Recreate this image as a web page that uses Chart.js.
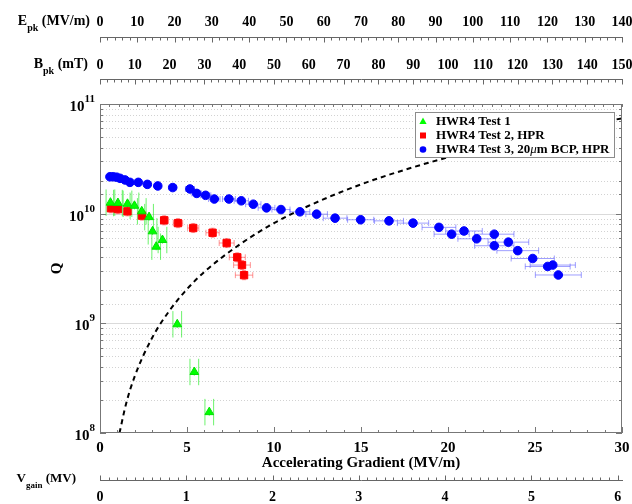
<!DOCTYPE html>
<html>
<head>
<meta charset="utf-8">
<script src="https://cdn.jsdelivr.net/npm/chart.js@4/dist/chart.umd.min.js"></script>
<style>
  html, body { margin: 0; padding: 0; background: #fff; }
</style>
</head>
<body>
<canvas id="qe" width="632" height="504"></canvas>
<script>
// HWR4 Test 1 (green triangles)
const t1Grad = [0.60, 1.03, 1.58, 1.98, 2.40, 2.82, 3.02, 3.23, 3.59, 4.44, 5.42, 6.28];
const t1Q = [1.26e10, 1.25e10, 1.23e10, 1.18e10, 1.05e10, 9.3e9, 6.9e9, 5.0e9, 5.75e9, 9.8e8, 3.6e8, 1.55e8];
const t1GradErr = [0.25, 0.25, 0.25, 0.25, 0.25, 0.25, 0.25, 0.25, 0.25, 0.25, 0.25, 0.25];
const t1QFactor = 1.32;

// HWR4 Test 2, HPR (red squares)
const t2Grad = [0.63, 1.03, 1.58, 2.41, 3.69, 4.48, 5.36, 6.47, 7.28, 7.89, 8.16, 8.28];
const t2Q = [1.12e10, 1.10e10, 1.05e10, 9.6e9, 8.7e9, 8.2e9, 7.4e9, 6.7e9, 5.4e9, 4.0e9, 3.4e9, 2.75e9];
const t2GradErr = [0.04, 0.06, 0.09, 0.14, 0.22, 0.27, 0.32, 0.38, 0.43, 0.46, 0.48, 0.50];
const t2QFactor = 1.1;

// HWR4 Test 3, 20um BCP, HPR (blue circles)
const t3Grad = [0.57, 0.76, 0.96, 1.15, 1.44, 1.72, 2.20, 2.72, 3.32, 4.18, 5.17, 5.56, 6.07,
  6.57, 7.41, 8.12, 8.81, 9.57, 10.40, 11.49, 12.45, 13.51, 14.98, 16.61, 17.99, 19.48,
  20.21, 20.92, 21.65, 22.66, 22.66, 23.47, 24.01, 24.87, 25.73, 26.02, 26.34];
const t3Q = [2.17e10, 2.17e10, 2.15e10, 2.10e10, 2.03e10, 1.93e10, 1.93e10, 1.85e10, 1.79e10,
  1.73e10, 1.68e10, 1.53e10, 1.47e10, 1.36e10, 1.36e10, 1.31e10, 1.22e10, 1.13e10, 1.09e10,
  1.04e10, 9.9e9, 9.1e9, 8.8e9, 8.6e9, 8.2e9, 7.5e9, 6.5e9, 6.95e9, 5.9e9, 6.5e9, 5.1e9,
  5.5e9, 4.6e9, 3.9e9, 3.3e9, 3.4e9, 2.76e9];
const t3GradErr = [0.03, 0.04, 0.05, 0.06, 0.07, 0.09, 0.11, 0.14, 0.17, 0.21, 0.26, 0.28, 0.30,
  0.33, 0.37, 0.41, 0.44, 0.48, 0.52, 0.57, 0.62, 0.68, 0.75, 0.83, 0.90, 0.97, 1.01, 1.05,
  1.08, 1.13, 1.13, 1.17, 1.20, 1.24, 1.29, 1.30, 1.32];
const t3QFactor = 1.05;

// dashed line
const limitGrad = [1.12, 1.5, 2, 3, 4, 5, 6, 8, 10, 12, 15, 18, 21, 24, 27, 30];
const limitQ = [1.0e8, 1.85e8, 3.3e8, 7.4e8, 1.31e9, 2.05e9, 2.95e9, 5.2e9, 8.2e9, 1.18e10,
  1.85e10, 2.65e10, 3.6e10, 4.7e10, 6.0e10, 7.4e10];

// axis ranges
const gradMax = 30;
const epkMax = 140;
const bpkMax = 150;
const vgainMax = 6.05;

const legendLabels = ['HWR4 Test 1', 'HWR4 Test 2, HPR', 'HWR4 Test 3, 20', 'm BCP, HPR'];

const FONT = "'Liberation Serif', 'Times New Roman', serif";
Chart.defaults.font.family = FONT;
Chart.defaults.font.weight = 'bold';
Chart.defaults.color = '#000';

const pts = (xs, ys) => xs.map((x, i) => ({ x: x, y: ys[i] }));
// fixed height, no extra room for the end labels
const fixH = h => s => { s.height = h; s.paddingLeft = 0; s.paddingRight = 0; };
const isInt = v => Math.abs(v - Math.round(v)) < 1e-6;

function auxAxis(pos, weight, max, step, h, pad, every, size) {
  return {
    type: 'linear', position: pos, weight: weight, min: 0, max: max,
    afterFit: fixH(h),
    grid: { display: false, drawTicks: false },
    border: { display: true, color: '#666', width: 1 },
    ticks: {
      stepSize: step, autoSkip: false, maxRotation: 0, includeBounds: false, padding: pad,
      font: { size: size, weight: 'bold' },
      callback: v => isInt(v / every) ? Math.round(v) : ''
    }
  };
}

// error bars, grid, frame, legend and axis names
const extras = {
  id: 'extras',
  beforeDatasetsDraw(chart) {
    const { ctx, chartArea: a, scales } = chart;
    const ys = scales.y, xs = scales.x;
    ctx.save();
    ys.ticks.forEach(t => {
      const py = Math.round(ys.getPixelForValue(t.value)) + 0.5;
      if (py <= a.top + 1 || py >= a.bottom - 1) return;
      const dec = isInt(Math.log10(t.value));
      ctx.beginPath();
      ctx.strokeStyle = dec ? '#dadada' : '#d2d2d2';
      ctx.lineWidth = 1;
      ctx.setLineDash(dec ? [] : [1, 2]);
      ctx.moveTo(a.left, py);
      ctx.lineTo(a.right, py);
      ctx.stroke();
    });
    ctx.setLineDash([]);

    ctx.beginPath();
    ctx.rect(a.left, a.top, a.right - a.left, a.bottom - a.top);
    ctx.clip();
    chart.data.datasets.forEach(ds => {
      if (!ds.xErr) return;
      ctx.strokeStyle = ds.errColor;
      ctx.lineWidth = 1;
      ds.data.forEach((p, i) => {
        const px = xs.getPixelForValue(p.x), py = ys.getPixelForValue(p.y);
        const xl = xs.getPixelForValue(p.x - ds.xErr[i]);
        const xr = xs.getPixelForValue(p.x + ds.xErr[i]);
        const yt = ys.getPixelForValue(p.y * ds.qFactor);
        const yb = ys.getPixelForValue(p.y / ds.qFactor);
        ctx.beginPath();
        if (ds.errStyle === 'sides') {
          ctx.moveTo(xl, yt); ctx.lineTo(xl, yb);
          ctx.moveTo(xr, yt); ctx.lineTo(xr, yb);
          ctx.moveTo(px, py); ctx.lineTo(px, ys.getPixelForValue(p.y / 1.08));
        } else {
          ctx.moveTo(xl, py); ctx.lineTo(xr, py);
          ctx.moveTo(xl, py - 3); ctx.lineTo(xl, py + 3);
          ctx.moveTo(xr, py - 3); ctx.lineTo(xr, py + 3);
          ctx.moveTo(px, yt); ctx.lineTo(px, yb);
          ctx.moveTo(px - 2, yt); ctx.lineTo(px + 2, yt);
          ctx.moveTo(px - 2, yb); ctx.lineTo(px + 2, yb);
        }
        ctx.stroke();
      });
    });
    ctx.restore();
  },
  afterDatasetsDraw(chart) {
    const { ctx, chartArea: a, scales } = chart;
    const ys = scales.y, xs = scales.x;
    ctx.save();

    // frame
    ctx.strokeStyle = '#777';
    ctx.lineWidth = 1;
    ctx.strokeRect(a.left + 0.5, a.top + 0.5, a.right - a.left - 1, a.bottom - a.top - 1);

    ctx.beginPath();
    // y ticks, both sides, inward
    ys.ticks.forEach(t => {
      const py = Math.round(ys.getPixelForValue(t.value)) + 0.5;
      const len = isInt(Math.log10(t.value)) ? 6 : 3;
      ctx.moveTo(a.left, py); ctx.lineTo(a.left + len, py);
      ctx.moveTo(a.right, py); ctx.lineTo(a.right - len, py);
    });
    // bottom ticks
    xs.ticks.forEach(t => {
      const px = Math.round(xs.getPixelForValue(t.value)) + 0.5;
      const len = isInt(t.value / 5) ? 6 : 3;
      ctx.moveTo(px, a.bottom); ctx.lineTo(px, a.bottom - len);
    });
    // top ticks
    scales.xT.ticks.forEach(t => {
      const px = Math.round(scales.xT.getPixelForValue(t.value)) + 0.5;
      ctx.moveTo(px, a.top); ctx.lineTo(px, a.top + 3);
    });
    ctx.stroke();

    // secondary axes ticks
    ctx.strokeStyle = '#666';
    ctx.beginPath();
    [['xE', 1, 10], ['xB', 1, 10], ['xV', -1, 1]].forEach(([id, dir, every]) => {
      const s = scales[id];
      const y0 = (dir > 0 ? s.bottom : s.top) + 0.5;
      s.ticks.forEach(t => {
        const px = Math.round(s.getPixelForValue(t.value)) + 0.5;
        const len = isInt(t.value / every) ? 5 : 3;
        ctx.moveTo(px, y0); ctx.lineTo(px, y0 + dir * len);
      });
    });
    ctx.stroke();

    // y tick labels 10^n
    ctx.fillStyle = '#000';
    ctx.textBaseline = 'middle';
    ys.ticks.forEach(t => {
      const e = Math.log10(t.value);
      if (!isInt(e)) return;
      const py = ys.getPixelForValue(t.value);
      const ex = String(Math.round(e));
      ctx.font = 'bold 11px ' + FONT;
      const we = ctx.measureText(ex).width;
      ctx.font = 'bold 15px ' + FONT;
      const wb = ctx.measureText('10').width;
      const right = a.left - 5;
      ctx.textAlign = 'left';
      ctx.fillText('10', right - we - wb, py + 3);
      ctx.font = 'bold 11px ' + FONT;
      ctx.fillText(ex, right - we, py - 5);
    });

    // names of the secondary axes
    const name = (main, sub, unit, xEnd, y, big, small) => {
      ctx.font = 'bold ' + big + 'px ' + FONT;
      const w1 = ctx.measureText(main).width;
      const w3 = ctx.measureText(unit).width;
      ctx.font = 'bold ' + small + 'px ' + FONT;
      const w2 = ctx.measureText(sub).width;
      const x = xEnd - w1 - w2 - w3;
      ctx.textAlign = 'left';
      ctx.font = 'bold ' + big + 'px ' + FONT;
      ctx.fillText(main, x, y);
      ctx.font = 'bold ' + small + 'px ' + FONT;
      ctx.fillText(sub, x + w1, y + 7);
      ctx.font = 'bold ' + big + 'px ' + FONT;
      ctx.fillText(unit, x + w1 + w2, y);
    };
    name('E', 'pk', ' (MV/m)', a.left - 10, scales.xE.bottom - 16, 14, 10);
    name('B', 'pk', ' (mT)', a.left - 12, scales.xB.bottom - 15, 14, 10);
    name('V', 'gain', ' (MV)', a.left - 24, scales.xV.top - 1, 13, 9);

    // legend
    const bw = 199, bh = 45;
    const bx = a.right - 8 - bw, by = a.top + 8;
    ctx.fillStyle = '#fff';
    ctx.fillRect(bx, by, bw, bh);
    ctx.strokeStyle = '#8c8c8c';
    ctx.strokeRect(bx + 0.5, by + 0.5, bw, bh);
    const rows = [by + 9.5, by + 23.5, by + 37.5];
    const mx = bx + 8;
    const dsets = chart.data.datasets;
    ctx.fillStyle = dsets[0].backgroundColor;
    ctx.beginPath();
    ctx.moveTo(mx, rows[0] - 4); ctx.lineTo(mx + 3.6, rows[0] + 2.5); ctx.lineTo(mx - 3.6, rows[0] + 2.5);
    ctx.closePath(); ctx.fill();
    ctx.fillStyle = dsets[1].backgroundColor;
    ctx.fillRect(mx - 3, rows[1] - 3, 6, 6);
    ctx.fillStyle = dsets[2].backgroundColor;
    ctx.beginPath(); ctx.arc(mx, rows[2], 3.3, 0, Math.PI * 2); ctx.fill();

    ctx.fillStyle = '#000';
    ctx.textAlign = 'left';
    const tx = bx + 21;
    ctx.font = 'bold 13px ' + FONT;
    ctx.fillText(legendLabels[0], tx, rows[0]);
    ctx.fillText(legendLabels[1], tx, rows[1]);
    ctx.fillText(legendLabels[2], tx, rows[2]);
    let w = ctx.measureText(legendLabels[2]).width;
    ctx.font = 'italic 13px ' + FONT;
    ctx.fillText('\u03bc', tx + w, rows[2]);
    w += ctx.measureText('\u03bc').width;
    ctx.font = 'bold 13px ' + FONT;
    ctx.fillText(legendLabels[3], tx + w, rows[2]);

    ctx.restore();
  }
};

new Chart(document.getElementById('qe'), {
  type: 'scatter',
  data: {
    datasets: [
      {
        label: 'HWR4 Test 1', data: pts(t1Grad, t1Q),
        pointStyle: 'triangle', pointRadius: 5, backgroundColor: '#00ff00', borderColor: '#00e000', borderWidth: 1,
        xErr: t1GradErr, qFactor: t1QFactor, errStyle: 'sides', errColor: 'rgba(30,235,30,0.65)'
      },
      {
        label: 'HWR4 Test 2, HPR', data: pts(t2Grad, t2Q),
        pointStyle: 'rect', pointRadius: 5.2, backgroundColor: '#ff0000', borderColor: '#ff0000', borderWidth: 1,
        xErr: t2GradErr, qFactor: t2QFactor, errColor: 'rgba(255,60,60,0.55)'
      },
      {
        label: 'HWR4 Test 3, 20\u03bcm BCP, HPR', data: pts(t3Grad, t3Q),
        pointStyle: 'circle', pointRadius: 4.3, backgroundColor: '#0000ff', borderColor: '#0000ff', borderWidth: 1,
        xErr: t3GradErr, qFactor: t3QFactor, errColor: 'rgba(80,80,255,0.55)'
      },
      {
        label: 'limit', data: pts(limitGrad, limitQ), showLine: true, pointRadius: 0,
        borderColor: '#000', borderWidth: 2, borderDash: [5, 4], cubicInterpolationMode: 'monotone',
        fill: false
      }
    ]
  },
  options: {
    responsive: false,
    animation: false,
    events: [],
    layout: { padding: { left: 0, top: 0, bottom: 0, right: 10 } },
    plugins: { legend: { display: false }, tooltip: { enabled: false } },
    scales: {
      x: {
        type: 'linear', position: 'bottom', weight: 1, min: 0, max: gradMax,
        afterFit: fixH(47),
        grid: { display: false, drawTicks: false }, border: { display: false },
        ticks: {
          stepSize: 1, autoSkip: false, maxRotation: 0, includeBounds: false, padding: 6,
          font: { size: 15, weight: 'bold' },
          callback: v => isInt(v / 5) ? Math.round(v) : ''
        },
        title: {
          display: true, text: 'Accelerating Gradient (MV/m)',
          font: { size: 15, weight: 'bold' }, padding: { top: 0, bottom: 8 }
        }
      },
      xV: auxAxis('bottom', 2, vgainMax, 0.1, 24, 9, 1, 14),
      xT: {
        type: 'linear', position: 'top', weight: 1, min: 0, max: epkMax,
        afterFit: fixH(25),
        grid: { display: false, drawTicks: false }, border: { display: false },
        ticks: { display: false, stepSize: 2.5, includeBounds: false }
      },
      xB: auxAxis('top', 2, bpkMax, 2, 42, 5, 10, 14),
      xE: auxAxis('top', 3, epkMax, 2, 37, 6, 10, 14),
      y: {
        type: 'logarithmic', position: 'left', min: 1e8, max: 1e11,
        afterFit: s => { s.width = 100; s.paddingTop = 0; s.paddingBottom = 0; },
        grid: { display: false, drawTicks: false }, border: { display: false },
        ticks: { display: false },
        title: { display: true, text: 'Q', font: { size: 15, weight: 'bold' }, padding: { top: 48, bottom: 0 } }
      }
    }
  },
  plugins: [extras]
});
</script>
</body>
</html>
